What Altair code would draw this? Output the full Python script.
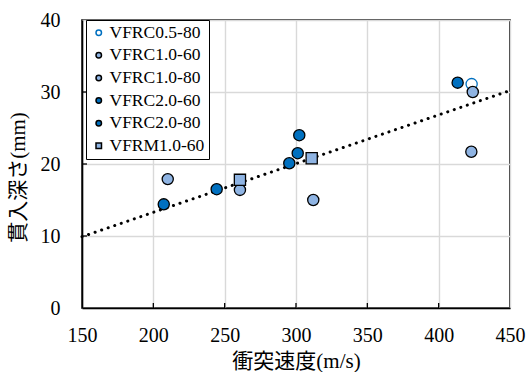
import altair as alt
import pandas as pd

series_names = ["VFRC0.5-80", "VFRC1.0-60", "VFRC1.0-80", "VFRC2.0-60", "VFRC2.0-80", "VFRM1.0-60"]

s05_80_x = [423.1]
s05_80_y = [31.1]
s10_60_x = [210.1, 260.7, 312.1]
s10_60_y = [17.9, 16.4, 15.0]
s10_80_x = [423.9, 422.9]
s10_80_y = [30.0, 21.7]
s20_60_x = [207.3, 244.4, 295.3]
s20_60_y = [14.4, 16.5, 20.1]
s20_80_x = [301.2, 302.3, 413.3]
s20_80_y = [21.5, 24.0, 31.3]
m10_60_x = [260.7, 311.0]
m10_60_y = [17.8, 20.8]

trend_x = [150, 450]
trend_y = [9.9, 30.2]

x_ticks = [150, 200, 250, 300, 350, 400, 450]
y_ticks = [0, 10, 20, 30, 40]

rows = []
for name, xs, ys in [
    (series_names[0], s05_80_x, s05_80_y),
    (series_names[1], s10_60_x, s10_60_y),
    (series_names[2], s10_80_x, s10_80_y),
    (series_names[3], s20_60_x, s20_60_y),
    (series_names[4], s20_80_x, s20_80_y),
    (series_names[5], m10_60_x, m10_60_y),
]:
    for xv, yv in zip(xs, ys):
        rows.append({"series": name, "v": xv, "d": yv})
df = pd.DataFrame(rows)
df["order"] = range(len(df))

trend_df = pd.DataFrame({"v": trend_x, "d": trend_y})
xtick_df = pd.DataFrame({"v": x_ticks[1:-1]})
ytick_df = pd.DataFrame({"d": y_ticks[1:-1]})

DARK = "#0070C0"
LIGHT = "#8FB4E3"
FONT = "Liberation Serif, Noto Sans CJK JP"

xscale = alt.Scale(domain=[150, 450], nice=False, zero=False)
yscale = alt.Scale(domain=[0, 40], nice=False)

xaxis = alt.Axis(values=x_ticks, title="衝突速度(m/s)", ticks=False, labelPadding=17,
                 labelFlush=False, labelOverlap=False, titlePadding=5, grid=True)
yaxis = alt.Axis(values=y_ticks, title="貫入深さ(mm)", ticks=False, labelPadding=22,
                 labelFlush=False, labelOverlap=False, titlePadding=14, grid=True)

trend = alt.Chart(trend_df).mark_line(
    color="black", strokeWidth=3, strokeCap="round", strokeDash=[0.1, 6.8]
).encode(
    x=alt.X("v:Q", scale=xscale, axis=xaxis),
    y=alt.Y("d:Q", scale=yscale, axis=yaxis),
)

xticks = alt.Chart(xtick_df).mark_rule(color="black", strokeWidth=1.3).encode(
    x=alt.X("v:Q", scale=xscale),
    y=alt.value(283),
    y2=alt.value(288),
)
yticks = alt.Chart(ytick_df).mark_rule(color="black", strokeWidth=1.3).encode(
    y=alt.Y("d:Q", scale=yscale),
    x=alt.value(0),
    x2=alt.value(5),
)

legend = alt.Legend(
    title=None, orient="none", legendX=4, legendY=0,
    strokeColor="black", fillColor="white", padding=4,
    labelFont=FONT, labelFontSize=17.5, labelColor="black",
    symbolSize=30, symbolStrokeWidth=1.5, rowPadding=3.6,
    symbolOffset=0, labelOffset=2, cornerRadius=0,
)

points = alt.Chart(df).mark_point(filled=False, size=125, strokeWidth=1.3, opacity=1).encode(
    x=alt.X("v:Q", scale=xscale),
    y=alt.Y("d:Q", scale=yscale),
    shape=alt.Shape("series:N", scale=alt.Scale(domain=series_names,
                    range=["circle", "circle", "circle", "circle", "circle", "square"]), legend=legend),
    fill=alt.Fill("series:N", scale=alt.Scale(domain=series_names,
                  range=["white", LIGHT, LIGHT, DARK, DARK, LIGHT]), legend=legend),
    stroke=alt.Stroke("series:N", scale=alt.Scale(domain=series_names,
                      range=[DARK, "black", "black", "black", "black", "black"]), legend=legend),
    order=alt.Order("order:Q"),
)

chart = alt.layer(trend, xticks, yticks, points).properties(
    width=428, height=288,
    background="white",
    autosize=alt.AutoSizeParams(type="none"),
    padding={"left": 82, "top": 20, "right": 18, "bottom": 64},
).configure_view(
    stroke="black", strokeWidth=1.6
).configure_axis(
    labelFont=FONT, titleFont=FONT, labelFontSize=20, titleFontSize=21,
    labelColor="black", titleColor="black", titleFontWeight="normal",
    domainColor="black", domainWidth=1.6, gridColor="#d9d9d9", gridWidth=1.4,
).configure_axisY(
    titleX=-64, titleY=157, titleAngle=270, titleAlign="center", titleBaseline="middle"
)

chart.save("out.html", embed_options={"renderer": "svg", "actions": False})
